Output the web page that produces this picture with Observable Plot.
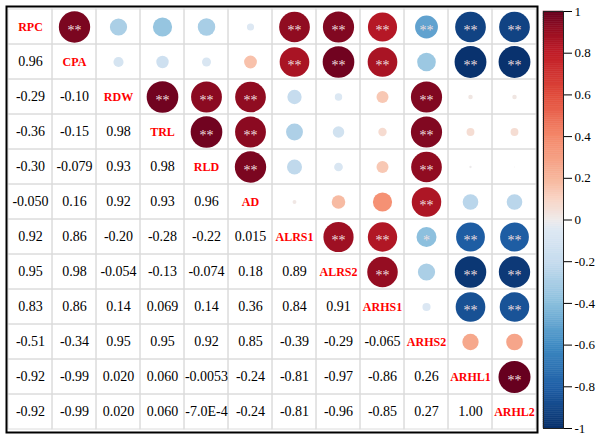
<!DOCTYPE html>
<html>
<head>
<meta charset="utf-8">
<script src="https://cdn.jsdelivr.net/npm/d3@7"></script>
<script src="https://cdn.jsdelivr.net/npm/@observablehq/plot@0.6"></script>
<style>
  html, body { margin: 0; padding: 0; background: #fff; }
  #wrap { position: relative; width: 600px; height: 439px; }
  #wrap svg { position: absolute; top: 0; }
</style>
</head>
<body>
<div id="wrap"></div>
<script>
// Variables (diagonal labels)
const vars = ["RPC","CPA","RDW","TRL","RLD","AD","ALRS1","ALRS2","ARHS1","ARHS2","ARHL1","ARHL2"];

// Lower-triangle correlation values, as printed (row i, columns 0..i-1)
const lowerRows = [
  [],
  ["0.96"],
  ["-0.29","-0.10"],
  ["-0.36","-0.15","0.98"],
  ["-0.30","-0.079","0.93","0.98"],
  ["-0.050","0.16","0.92","0.93","0.96"],
  ["0.92","0.86","-0.20","-0.28","-0.22","0.015"],
  ["0.95","0.98","-0.054","-0.13","-0.074","0.18","0.89"],
  ["0.83","0.86","0.14","0.069","0.14","0.36","0.84","0.91"],
  ["-0.51","-0.34","0.95","0.95","0.92","0.85","-0.39","-0.29","-0.065"],
  ["-0.92","-0.99","0.020","0.060","-0.0053","-0.24","-0.81","-0.97","-0.86","0.26"],
  ["-0.92","-0.99","0.020","0.060","-7.0E-4","-0.24","-0.81","-0.96","-0.85","0.27","1.00"]
];

// Significance marks for the upper triangle (row i, columns i+1..11)
const starRows = [
  ["**","","","","","**","**","**","**","**","**"],
  ["","","","","**","**","**","","**","**"],
  ["**","**","**","","","","**","",""],
  ["**","**","","","","**","",""],
  ["**","","","","**","",""],
  ["","","","**","",""],
  ["**","**","*","**","**"],
  ["**","","**","**"],
  ["","**","**"],
  ["",""],
  ["**"],
  []
];

// Colour ramp (red-blue) and colour-bar ticks
const rampStops  = [-1, -0.8, -0.6, -0.4, -0.2, -0.05, 0, 0.1, 0.2, 0.4, 0.6, 0.8, 0.9, 1];
const rampColors = ["#08306b","#1f5fa6","#3f8bc3","#8abfdd","#c6dcee","#dde8f3","#eeeaea","#f9d4c4","#f7b59b","#f4886a","#e04a3a","#c01c27","#9a0f22","#67001f"];
const colorbarTicks = [-1,-0.8,-0.6,-0.4,-0.2,0,0.2,0.4,0.6,0.8,1];

// Build tables
const allCells = [];
const lowerCells = [];
const upperCells = [];
const diagCells = [];
vars.forEach((row, i) => {
  vars.forEach((col, j) => {
    allCells.push({row, col});
    if (i === j) diagCells.push({row, col, label: row});
    else if (j < i) lowerCells.push({row, col, text: lowerRows[i][j]});
    else {
      const v = +lowerRows[j][i];
      upperCells.push({row, col, v, a: Math.abs(v), star: starRows[i][j - i - 1]});
    }
  });
});

const serif = "'Liberation Serif', 'Times New Roman', serif";
const colorScale = {type: "linear", domain: rampStops, range: rampColors, interpolate: "rgb"};

const main = Plot.plot({
  width: 600,
  height: 439,
  marginLeft: 6,
  marginRight: 63,
  marginTop: 6,
  marginBottom: 7,
  style: {fontFamily: serif, background: "transparent"},
  x: {type: "band", domain: vars, padding: 0, axis: null},
  y: {type: "band", domain: vars, padding: 0, axis: null},
  r: {type: "sqrt", domain: [0, 1], range: [0, 16]},
  color: colorScale,
  marks: [
    Plot.cell(allCells, {x: "col", y: "row", fill: "none", stroke: "#dcdcdc", strokeWidth: 1}),
    Plot.dot(upperCells, {x: "col", y: "row", r: "a", fill: "v", stroke: "none"}),
    Plot.text(upperCells.filter(d => d.star), {x: "col", y: "row", text: "star", fill: "#ecdede", fontSize: 14, dy: 4}),
    Plot.text(lowerCells, {x: "col", y: "row", text: "text", fill: "black", fontSize: 14}),
    Plot.text(diagCells, {x: "col", y: "row", text: "label", fill: "#ff0000", fontSize: 12, fontWeight: "bold"}),
    Plot.frame({stroke: "black", strokeWidth: 2})
  ]
});

// Colour bar
const step = 0.01;
const barData = d3.range(200).map(i => ({y1: -1 + i * step, y2: -1 + (i + 1) * step, c: -1 + (i + 0.5) * step}));
const bar = Plot.plot({
  width: 60,
  height: 439,
  marginLeft: 3,
  marginRight: 37,
  marginTop: 11,
  marginBottom: 11,
  style: {fontFamily: serif, fontSize: "13px", background: "transparent"},
  x: {domain: [0, 1], axis: null},
  y: {domain: [-1, 1], axis: null},
  color: colorScale,
  marks: [
    Plot.rect(barData, {x1: 0, x2: 1, y1: "y1", y2: "y2", fill: "c", stroke: "c", strokeWidth: 0.5}),
    Plot.frame({stroke: "#222", strokeWidth: 1}),
    Plot.axisY(colorbarTicks, {anchor: "right", tickSize: 8, tickPadding: 3, tickFormat: d => String(Math.round(d * 10) / 10), fill: "black", fontSize: 13})
  ]
});
bar.style.left = "540px";

const wrap = document.getElementById("wrap");
wrap.appendChild(main);
wrap.appendChild(bar);
</script>
</body>
</html>
